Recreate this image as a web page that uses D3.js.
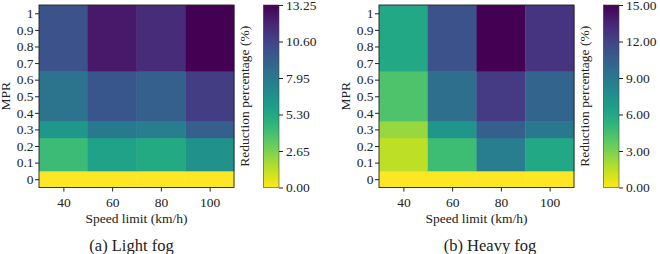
<!DOCTYPE html>
<html>
<head>
<meta charset="utf-8">
<script src="https://cdn.jsdelivr.net/npm/d3@7"></script>
<style>
    body { margin: 0; background: #fff; }
</style>
</head>
<body>
<div id="hello"></div>
<script>
// speed limits (columns) and MPR ticks
var speeds = [40, 60, 80, 100];
var mprTicks = [0, 0.1, 0.2, 0.3, 0.4, 0.5, 0.6, 0.7, 0.8, 0.9, 1];
// MPR row bins (lower / upper edge), bottom to top
var mprLow = [-0.05, 0.05, 0.25, 0.35, 0.65];
var mprHigh = [0.05, 0.25, 0.35, 0.65, 1.05];

// reduction percentage (%), one row per MPR bin, bottom to top
var lightFog = [
    [0, 0, 0, 0],
    [4.2, 5.6, 5.2, 6.6],
    [6.2, 7.9, 7.7, 9.3],
    [8.2, 9.7, 9.3, 10.9],
    [9.9, 12.4, 11.6, 13.25]
];
var heavyFog = [
    [0, 0, 0, 0],
    [1.5, 4.7, 8.7, 6.0],
    [2.3, 7.2, 10.5, 9.0],
    [4.2, 9.6, 12.4, 10.2],
    [6.0, 11.2, 15.0, 12.75]
];
var lightTicks = [0, 2.65, 5.30, 7.95, 10.60, 13.25];
var heavyTicks = [0, 3, 6, 9, 12, 15];

var FONT = "'Liberation Serif', 'DejaVu Serif', serif";
var FS = 13.5;

var svg = d3.select("#hello").append("svg")
    .attr("width", 660)
    .attr("height", 254)
    .attr("font-family", FONT);

function drawPanel(id, left, values, cbTicks, caption, captionX) {
    var top = 5, width = 195, height = 182.5;
    var cbLeft = left + 224.3, cbWidth = 15.7;
    var vmax = cbTicks[cbTicks.length - 1];

    var g = svg.append("g").attr("transform", "translate(" + left + "," + top + ")");

    var xScale = d3.scaleLinear().domain([30, 110]).range([0, width]);
    var yScale = d3.scaleLinear().domain([-0.05, 1.05]).range([height, 0]);
    var color = function (v) { return d3.interpolateViridis(1 - v / vmax); };

    var cells = [];
    values.forEach(function (row, r) {
        row.forEach(function (v, c) {
            cells.push({ r: r, c: c, v: v });
        });
    });

    g.selectAll("rect.cell")
        .data(cells)
        .enter().append("rect")
        .attr("class", "cell")
        .attr("x", function (d) { return xScale(speeds[d.c] - 10); })
        .attr("width", function (d) { return xScale(speeds[d.c] + 10) - xScale(speeds[d.c] - 10) + 0.4; })
        .attr("y", function (d) { return yScale(mprHigh[d.r]); })
        .attr("height", function (d) { return yScale(mprLow[d.r]) - yScale(mprHigh[d.r]) + 0.4; })
        .attr("fill", function (d) { return color(d.v); });

    g.append("rect")
        .attr("width", width).attr("height", height)
        .attr("fill", "none").attr("stroke", "#222").attr("stroke-width", 0.9);

    var xAxis = d3.axisBottom(xScale).tickValues(speeds).tickSize(4).tickSizeOuter(0);
    var xg = g.append("g").attr("transform", "translate(0," + height + ")").call(xAxis)
        .attr("font-family", FONT).attr("font-size", FS);
    xg.select(".domain").remove();
    xg.selectAll("text").attr("dy", "0.92em").attr("fill", "#222");

    var yAxis = d3.axisLeft(yScale).tickValues(mprTicks).tickSize(4).tickSizeOuter(0)
        .tickFormat(function (d) { return d3.format("")(d); });
    var yg = g.append("g").call(yAxis)
        .attr("font-family", FONT).attr("font-size", FS);
    yg.select(".domain").remove();
    yg.selectAll("text").attr("x", -5.5).attr("fill", "#222");
    g.selectAll(".tick line").attr("stroke", "#222");

    g.append("text")
        .attr("x", width / 2).attr("y", 217.5)
        .attr("text-anchor", "middle").attr("font-size", FS).attr("fill", "#222")
        .text("Speed limit (km/h)");

    g.append("text")
        .attr("transform", "translate(-33.5," + (height / 2) + ") rotate(-90)")
        .attr("text-anchor", "middle").attr("dominant-baseline", "central")
        .attr("font-size", FS).attr("fill", "#222")
        .text("MPR");

    // colorbar
    var grad = svg.append("defs").append("linearGradient")
        .attr("id", id + "grad")
        .attr("x1", 0).attr("y1", 1).attr("x2", 0).attr("y2", 0);
    d3.range(0, 1.0001, 0.05).forEach(function (t) {
        grad.append("stop").attr("offset", t).attr("stop-color", d3.interpolateViridis(1 - t));
    });

    var cScale = d3.scaleLinear().domain([0, vmax]).range([top + height, top]);
    svg.append("rect")
        .attr("x", cbLeft).attr("y", top)
        .attr("width", cbWidth).attr("height", height)
        .attr("fill", "url(#" + id + "grad)")
        .attr("stroke", "#444").attr("stroke-width", 0.6);

    var cAxis = d3.axisRight(cScale).tickValues(cbTicks).tickSize(4).tickFormat(d3.format(".2f"));
    var cg = svg.append("g").attr("transform", "translate(" + (cbLeft + cbWidth) + ",0)").call(cAxis)
        .attr("font-family", FONT).attr("font-size", FS);
    cg.select(".domain").remove();
    cg.selectAll("text").attr("x", 7).attr("fill", "#222");
    cg.selectAll(".tick line").attr("stroke", "#222");

    svg.append("text")
        .attr("transform", "translate(" + (left + 205.5) + "," + (top + height / 2) + ") rotate(-90)")
        .attr("text-anchor", "middle").attr("dominant-baseline", "central")
        .attr("font-size", FS).attr("fill", "#222")
        .text("Reduction percentage (%)");

    svg.append("text")
        .attr("x", captionX).attr("y", 251)
        .attr("text-anchor", "middle").attr("font-size", 16.5).attr("fill", "#222")
        .text(caption);
}

drawPanel("light", 39, lightFog, lightTicks, "(a) Light fog", 131.5);
drawPanel("heavy", 379, heavyFog, heavyTicks, "(b) Heavy fog", 490);
</script>
</body>
</html>
